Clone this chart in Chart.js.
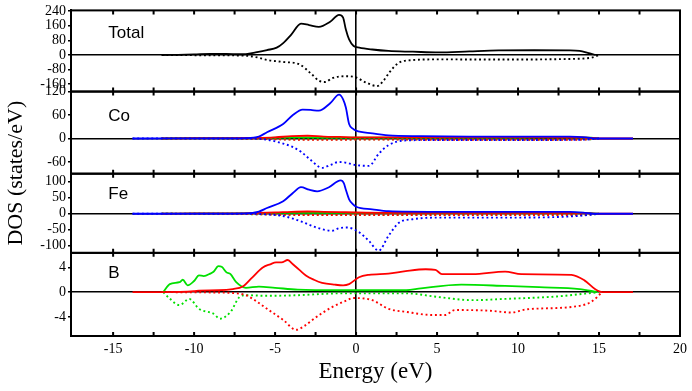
<!DOCTYPE html>
<html>
<head>
<meta charset="utf-8">
<script src="https://cdn.jsdelivr.net/npm/chart.js@4.4.0/dist/chart.umd.min.js"></script>
<style>
  html, body { margin: 0; padding: 0; background: #fff; }
  canvas { display: block; }
</style>
</head>
<body>
<canvas id="dosChart" width="692" height="391"></canvas>
<script>
// tick values
const xTicks = [-15, -12.5, -10, -7.5, -5, -2.5, 0, 2.5, 5, 7.5, 10, 12.5, 15, 17.5, 20];
const totalTicks = [-160, -80, 0, 80, 160, 240];
const coTicks = [-60, 0, 60, 120];
const feTicks = [-100, -50, 0, 50, 100];
const bTicks = [-4, 0, 4];

// [energy (eV), DOS]
const totalUp = [[-12,0],[-11,1],[-10,3],[-9,6],[-8,6],[-7.2,4],[-6.8,5],[-6.2,14],[-5.5,27],[-4.9,40],[-4.5,65],[-4,112],[-3.4,172],[-2.9,164],[-2.3,154],[-1.6,182],[-1.05,220],[-0.8,205],[-0.63,139],[-0.43,85],[-0.15,49],[0.2,40],[1,30],[2,22],[3.5,18],[5.1,14],[7,20],[8.8,25],[11,26],[13.2,25],[13.8,22],[14.3,12],[14.8,0]];
const totalDown = [[-12,0],[-10,-1],[-8,-2],[-6.8,-4],[-6,-15],[-5.5,-27],[-4.5,-38],[-3.5,-51],[-2.8,-100],[-2.3,-140],[-1.9,-148],[-1.5,-128],[-1.05,-118],[-0.5,-116],[0,-123],[0.6,-150],[1.3,-170],[1.7,-140],[2.05,-96],[2.6,-45],[3.5,-28],[5.1,-24],[9.2,-25],[13,-22],[14.5,-15],[15,0]];

const coDUp = [[-13.8,0],[-8,0.5],[-6.8,1],[-6,5],[-5.5,16],[-4.5,37],[-3.9,60],[-3.3,74],[-2.8,73],[-2.3,71],[-1.6,90],[-1.05,112],[-0.8,100],[-0.63,79],[-0.43,37],[-0.2,25],[0,20],[1,13],[2,8],[4,6],[7,5],[10,5],[13.2,5],[14.2,3],[14.8,0],[17.1,0]];
const coDDown = [[-13.8,0],[-6.8,0],[-5.5,-3],[-4.5,-13],[-3.9,-22],[-3.4,-34],[-2.8,-55],[-2.1,-75],[-1.6,-68],[-1.05,-60],[-0.6,-62],[0,-68],[0.8,-70],[1.4,-39],[2,-17],[3,-5],[5,-4],[10,-4],[14,-3],[15,0]];
const coSUp = [[-12,0],[-10,0.8],[-8,1],[-6.5,1.5],[-5,3],[-4,6],[-3,7],[-2,5],[-1,4],[0,3],[2,3],[6,3],[10,3],[14,2.5],[15,0],[17.1,0]];
const coPUp = [[-12,0],[-10,1.5],[-8,1.5],[-6,1.5],[-4,3],[-2,2.5],[0,2],[5,2],[10,2.5],[13,3],[14.5,2],[15,0]];
const coSDown = [[-12,0],[-6,-1],[-4,-3],[-2,-3.5],[0,-3],[3,-3],[10,-3.5],[14,-3],[15,0]];
const coPDown = [[-12,0],[-6,-1],[-4,-2],[-1,-2],[3,-2],[10,-2.5],[14.5,-2],[15,0]];

const feDUp = [[-13.8,0],[-8,0.5],[-6.8,1],[-6,7],[-5.5,18],[-4.5,39],[-3.9,65],[-3.4,83],[-2.9,75],[-2.4,70],[-1.7,82],[-0.95,104],[-0.75,95],[-0.63,75],[-0.43,45],[-0.2,30],[0,22],[1,14],[2,8],[5,6],[9.2,6],[13.2,6],[14.2,3],[14.8,0],[17.1,0]];
const feDDown = [[-13.8,0],[-6.8,0],[-5.5,-2],[-4.5,-7],[-3.5,-22],[-2.5,-42],[-1.5,-53],[-1.05,-45],[-0.55,-43],[0.2,-58],[0.8,-85],[1.4,-115],[2,-69],[2.65,-28],[3.5,-17],[5.1,-12],[9,-12],[13,-9],[14.5,-3],[15,0]];
const feSUp = [[-12,0],[-10,1],[-8,1],[-6.5,2],[-5,4],[-4,6],[-3,7],[-2,6],[-1,5],[0,4],[2,3],[6,3],[10,3],[14,3],[15,0],[17.1,0]];
const fePUp = [[-12,0],[-10,1.5],[-8,1.5],[-6,2],[-4,3],[-2,3],[0,2.5],[5,2.5],[10,3],[13,3.5],[14.5,2],[15,0]];
const feSDown = [[-12,0],[-6,-1.5],[-4,-3.5],[-2,-4],[0,-4],[3,-4],[10,-4],[14,-3.5],[15,0]];
const fePDown = [[-12,0],[-6,-1.5],[-4,-2.5],[-1,-2.5],[3,-3],[10,-3],[14.5,-2],[15,0]];

const bSUp = [[-13.8,0],[-12,0],[-10,0.15],[-9.7,0.25],[-8.5,0.3],[-7.6,0.5],[-7,0.9],[-6.4,2.4],[-5.76,4],[-5.3,4.5],[-4.94,4.8],[-4.6,4.8],[-4.22,5.2],[-3.9,4.5],[-3.5,3.6],[-3.1,2.7],[-2.6,2],[-2.1,1.5],[-1.3,1.2],[-0.8,1.1],[-0.43,1.3],[0.18,2.4],[0.8,2.8],[2,3],[3.06,3.4],[4.3,3.7],[4.9,3.6],[5.3,2.9],[7.2,2.9],[9.2,3.3],[10.2,2.9],[13.3,2.8],[14.1,1.9],[14.75,0.5],[15.2,0],[17.1,0]];
const bPUp = [[-11.9,0],[-11.5,1.3],[-10.9,1.6],[-10.7,2],[-10.4,1.1],[-10,1.8],[-9.7,2.7],[-9.4,2.6],[-9,3],[-8.8,3.3],[-8.5,4.2],[-8.3,4.1],[-8,3.2],[-7.75,2.9],[-7.4,1.6],[-6.8,0.7],[-6,0.9],[-5,0.7],[-3.6,0.4],[-1,0.3],[3.1,0.3],[4,0.6],[6.5,1.2],[9.2,1],[11.3,0.8],[13.8,0.5],[14.9,0]];
const bSDown = [[-12,0],[-9,-0.05],[-7.6,-0.15],[-6.8,-0.5],[-6.2,-1.4],[-5.5,-2.7],[-4.5,-4.5],[-3.7,-6.1],[-3.2,-5.5],[-2.7,-4.5],[-2.1,-3.4],[-1.46,-2.4],[-0.55,-1.3],[-0.2,-0.96],[1,-1.3],[2,-2.7],[3.1,-3.2],[4.7,-3.7],[5.5,-3.7],[6.1,-2.9],[8.2,-3],[9.6,-3.3],[10.5,-2.8],[13.3,-2.4],[14.5,-1.6],[15.2,0]];
const bPDown = [[-11.9,0],[-11.5,-1.06],[-10.9,-2.1],[-10.3,-1.1],[-9.7,-2.7],[-8.8,-3.5],[-8.4,-4.3],[-7.75,-3.2],[-7.2,-0.8],[-6.8,-0.5],[-5.5,-0.6],[-3.6,-0.5],[-1,-0.2],[3.1,-0.2],[5.1,-0.8],[7.2,-1.3],[9.2,-1.1],[12.4,-0.7],[15,0]];

const BLACK = '#000000', BLUE = '#0000ff', RED = '#ff0000', GREEN = '#00e000';
const SERIF = '"Liberation Serif", "Times New Roman", serif';

// panels, top to bottom
const panels = [
  { id: 'yTot', name: 'Total', ticks: totalTicks, min: -200, max: 244, weight: 82, label: [-15.3, 121] },
  { id: 'yCo', name: 'Co', ticks: coTicks, min: -90, max: 120, weight: 83, label: [-15.3, 57] },
  { id: 'yFe', name: 'Fe', ticks: feTicks, min: -122, max: 125, weight: 80, label: [-15.3, 61] },
  { id: 'yB', name: 'B', ticks: bTicks, min: -7.1, max: 6.35, weight: 84, label: [-15.3, 3] }
];

function series(points, axis, color, dotted) {
  return {
    data: points.map(([x, y]) => ({ x, y })),
    yAxisID: axis,
    borderColor: color,
    borderWidth: dotted ? 1.9 : 1.8,
    borderDash: dotted ? [1.9, 2.8] : [],
    pointRadius: 0,
    fill: false,
    cubicInterpolationMode: 'monotone'
  };
}

const datasets = [
  series(totalUp, 'yTot', BLACK, false),
  series(totalDown, 'yTot', BLACK, true),
  series(coDUp, 'yCo', BLUE, false),
  series(coDDown, 'yCo', BLUE, true),
  series(coSUp, 'yCo', RED, false),
  series(coPUp, 'yCo', GREEN, false),
  series(coSDown, 'yCo', RED, true),
  series(coPDown, 'yCo', GREEN, true),
  series(feDUp, 'yFe', BLUE, false),
  series(feDDown, 'yFe', BLUE, true),
  series(feSUp, 'yFe', RED, false),
  series(fePUp, 'yFe', GREEN, false),
  series(feSDown, 'yFe', RED, true),
  series(fePDown, 'yFe', GREEN, true),
  series(bSUp, 'yB', RED, false),
  series(bPUp, 'yB', GREEN, false),
  series(bSDown, 'yB', RED, true),
  series(bPDown, 'yB', GREEN, true)
];

const zeroOnly = c => (c.tick && c.tick.value === 0) ? BLACK : 'rgba(0,0,0,0)';

const scales = {
  x: {
    type: 'linear',
    min: -17.6,
    max: 20,
    afterBuildTicks: s => { s.ticks = xTicks.map(v => ({ value: v })); },
    afterFit: s => { s.height = 55; },
    grid: { color: zeroOnly, lineWidth: 1.6, drawTicks: false },
    border: { display: true, color: BLACK, width: 2 },
    ticks: {
      color: BLACK, padding: 5, maxRotation: 0, autoSkip: false,
      font: { family: SERIF, size: 14 },
      callback: v => (v % 5 === 0 ? String(v) : '')
    },
    title: {
      display: true, text: 'Energy (eV)', color: BLACK,
      font: { family: SERIF, size: 23 }, padding: { top: 0, bottom: 5 }
    }
  }
};

panels.forEach((p, i) => {
  scales[p.id] = {
    type: 'linear',
    position: 'left',
    stack: 'dos',
    stackWeight: p.weight,
    weight: panels.length - i,
    min: p.min,
    max: p.max,
    afterBuildTicks: s => { s.ticks = p.ticks.map(v => ({ value: v })); },
    afterFit: s => { s.width = 71; },
    grid: { color: zeroOnly, lineWidth: 1.6, tickColor: BLACK, tickLength: 3, drawTicks: true },
    border: { display: true, color: BLACK, width: 2 },
    ticks: { color: BLACK, padding: 2, autoSkip: false, font: { family: SERIF, size: 14 } }
  };
});

// frames, inward ticks, panel names, y title
const panelDecor = {
  id: 'panelDecor',
  afterDraw(chart) {
    const { ctx, chartArea: ca } = chart;
    const xs = chart.scales.x;
    ctx.save();
    ctx.strokeStyle = BLACK;
    ctx.fillStyle = BLACK;
    ctx.lineWidth = 2;
    panels.forEach(p => {
      const s = chart.scales[p.id];
      ctx.strokeRect(ca.left, s.top, ca.right - ca.left, s.bottom - s.top);
      ctx.beginPath();
      xTicks.forEach(v => {
        const px = xs.getPixelForValue(v);
        if (px <= ca.left + 2 || px >= ca.right - 2) return;
        ctx.moveTo(px, s.top);
        ctx.lineTo(px, s.top + 4);
        ctx.moveTo(px, s.bottom);
        ctx.lineTo(px, s.bottom - 4);
      });
      ctx.stroke();
      ctx.font = '17px "Liberation Sans", Arial, sans-serif';
      ctx.textBaseline = 'middle';
      ctx.textAlign = 'left';
      ctx.fillText(p.name, xs.getPixelForValue(p.label[0]), s.getPixelForValue(p.label[1]));
    });
    ctx.translate(16, (ca.top + ca.bottom) / 2);
    ctx.rotate(-Math.PI / 2);
    ctx.textAlign = 'center';
    ctx.textBaseline = 'middle';
    ctx.font = '22px ' + SERIF;
    ctx.fillText('DOS (states/eV)', 0, 0);
    ctx.restore();
  }
};

new Chart(document.getElementById('dosChart'), {
  type: 'line',
  data: { datasets },
  options: {
    responsive: false,
    animation: false,
    layout: { padding: { top: 7, right: 10, left: 0, bottom: 0 } },
    plugins: { legend: { display: false }, tooltip: { enabled: false } },
    scales
  },
  plugins: [panelDecor]
});
</script>
</body>
</html>
